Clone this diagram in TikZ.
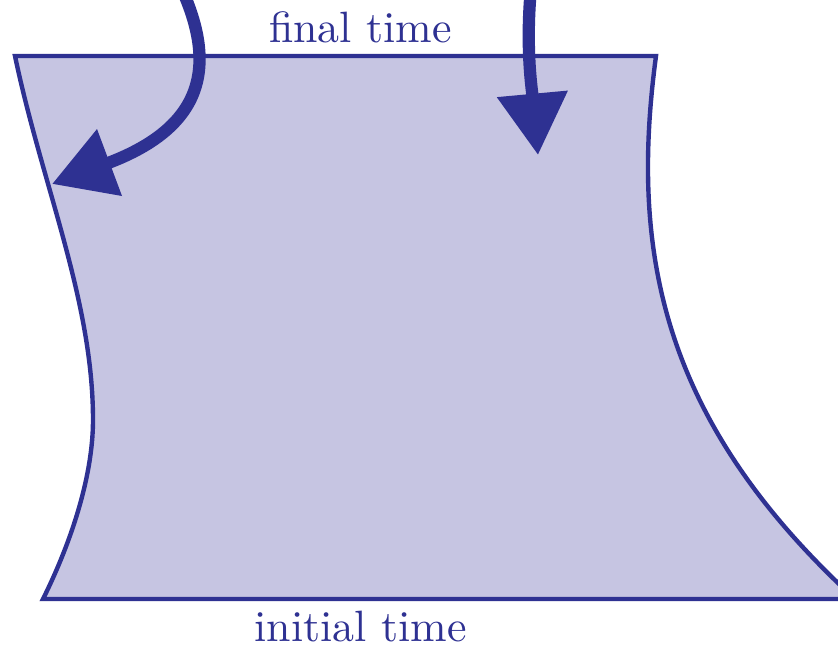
\documentclass[tikz,border=0pt]{standalone}
\usetikzlibrary{arrows.meta}
\definecolor{ink}{RGB}{46,49,146}
\definecolor{paper}{RGB}{198,197,226}
\tikzset{
  outline/.style={draw=ink, fill=paper, line width=1pt},
  bigarrow/.style={draw=ink, line width=2.8pt, -{Triangle[length=14pt,width=15.5pt]}, ink},
  label/.style={text=ink, font=\fontsize{10}{12}\selectfont, inner sep=0pt}
}
\begin{document}
\begin{tikzpicture}[x=0.228pt, y=-0.228pt]
\useasboundingbox (0,0) rectangle (838,648);
\clip (0,0) rectangle (838,648);
% region
\path[outline] (15,56) -- (656,56)
  .. controls (630,250) and (660,420) .. (855,599)
  -- (43,599)
  .. controls (68,549) and (93,480) .. (93,420)
  .. controls (93,300) and (42,185) .. cycle;
% labels
\node[label, anchor=base] (final) at (360.5,43) {final time};
\node[label, anchor=base] (initial) at (360.5,641) {initial time};
% arrows
\coordinate (s1) at (180,-15);
\coordinate (t1) at (52,184);
\coordinate (s2) at (533,-30);
\coordinate (t2) at (538,155);
\draw[bigarrow] (s1) .. controls (215,60) and (210,125) .. (t1);
\draw[bigarrow] (s2) .. controls (524,40) and (532,90) .. (t2);
\end{tikzpicture}
\end{document}
